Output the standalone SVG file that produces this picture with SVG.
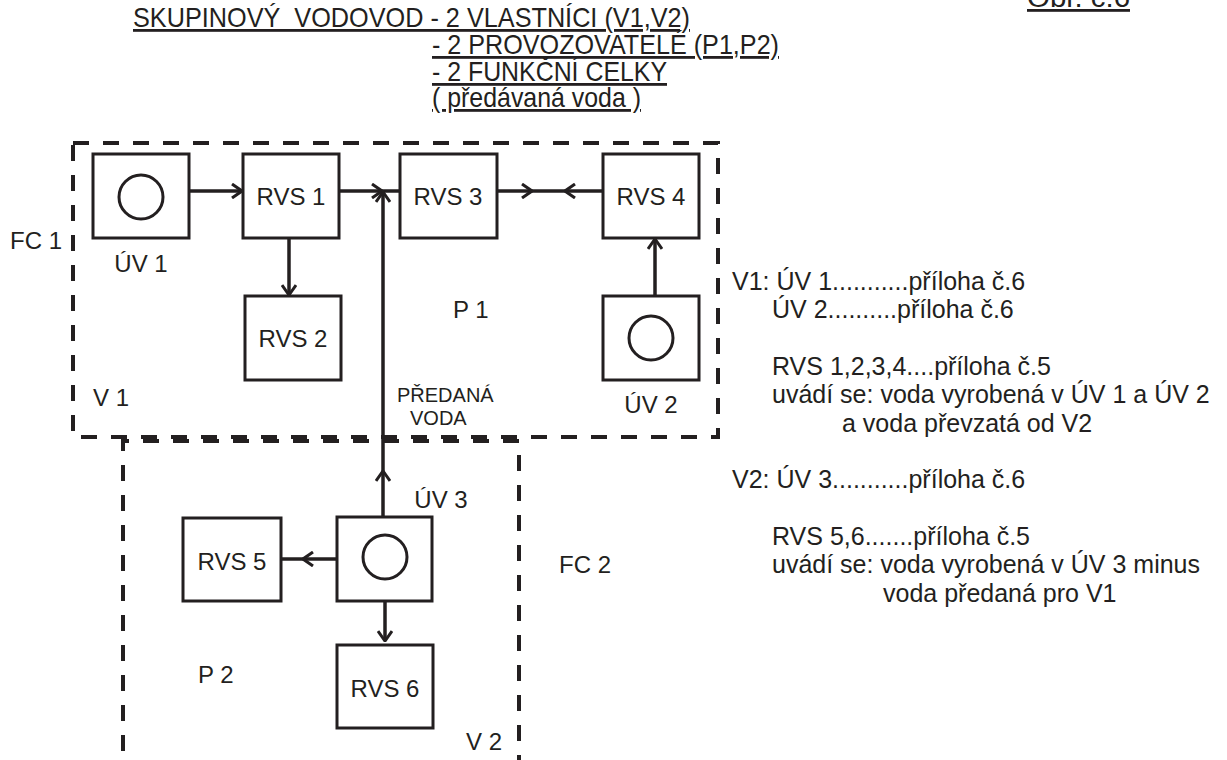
<svg xmlns="http://www.w3.org/2000/svg" width="1227" height="760" viewBox="0 0 1227 760">
<style>
text{font-family:"Liberation Sans",Arial,sans-serif;fill:#231f20}
.lbl{font-size:24px}
.note{font-size:25px}
.hdr{font-size:28px;text-decoration:underline}
.box{fill:#fff;stroke:#231f20;stroke-width:3}
.src{fill:none;stroke:#231f20;stroke-width:3}
.con{stroke:#231f20;stroke-width:3.5;fill:none}
.fc{fill:none;stroke:#231f20;stroke-width:4;stroke-dasharray:16 14}
</style>
<defs>
<marker id="arr" markerUnits="userSpaceOnUse" viewBox="0 0 12 16" refX="11" refY="8" markerWidth="12" markerHeight="16" orient="auto">
<path d="M1,1 L11,8 L1,15" fill="none" stroke="#231f20" stroke-width="3"/>
</marker>
</defs>

<g id="header">
<text class="hdr" x="133" y="27" xml:space="preserve" textLength="557" lengthAdjust="spacingAndGlyphs">SKUPINOVÝ  VODOVOD - 2 VLASTNÍCI (V1,V2)</text>
<text class="hdr" x="432" y="54" textLength="347" lengthAdjust="spacingAndGlyphs">- 2 PROVOZOVATELÉ (P1,P2)</text>
<text class="hdr" x="432" y="81" textLength="235" lengthAdjust="spacingAndGlyphs">- 2 FUNKČNÍ CELKY</text>
<text class="hdr" x="432" y="107" textLength="209" lengthAdjust="spacingAndGlyphs">( předávaná voda )</text>
<text class="hdr" x="1027" y="7" textLength="103" lengthAdjust="spacingAndGlyphs">Obr. č.6</text>
</g>

<g id="fc1">
<path class="fc" d="M73,143 H718 V437 H73 Z"/>
<text class="lbl" x="10" y="249">FC 1</text>
<text class="lbl" x="93" y="406">V 1</text>
<text class="lbl" x="453" y="318">P 1</text>
</g>
<g id="fc2">
<path class="fc" d="M123,775 V441 H519 V775" style="stroke-dashoffset:6"/>
<text class="lbl" x="559" y="573">FC 2</text>
<text class="lbl" x="198" y="683">P 2</text>
<text class="lbl" x="466" y="750">V 2</text>
</g>

<g id="uv1">
<rect class="box" x="93" y="154" width="96" height="84"/>
<circle class="src" cx="141" cy="197" r="22"/>
<text class="lbl" x="141" y="272" text-anchor="middle">ÚV 1</text>
</g>
<g id="rvs1">
<rect class="box" x="243" y="154" width="96" height="84"/>
<text class="lbl" x="291" y="205" text-anchor="middle">RVS 1</text>
</g>
<g id="rvs2">
<rect class="box" x="245" y="296" width="96" height="84"/>
<text class="lbl" x="293" y="347" text-anchor="middle">RVS 2</text>
</g>
<g id="rvs3">
<rect class="box" x="400" y="154" width="97" height="84"/>
<text class="lbl" x="448" y="205" text-anchor="middle">RVS 3</text>
</g>
<g id="rvs4">
<rect class="box" x="603" y="154" width="96" height="84"/>
<text class="lbl" x="651" y="205" text-anchor="middle">RVS 4</text>
</g>
<g id="uv2">
<rect class="box" x="603" y="296" width="96" height="84"/>
<circle class="src" cx="651" cy="338" r="22"/>
<text class="lbl" x="651" y="413" text-anchor="middle">ÚV 2</text>
</g>
<g id="predana">
<text x="397" y="402" style="font-size:20px">PŘEDANÁ</text>
<text x="410" y="425" style="font-size:20px">VODA</text>
</g>
<g id="uv3">
<rect class="box" x="337" y="517" width="95" height="84"/>
<circle class="src" cx="385" cy="557" r="22"/>
<text class="lbl" x="441" y="508" text-anchor="middle">ÚV 3</text>
</g>
<g id="rvs5">
<rect class="box" x="183" y="518" width="98" height="83"/>
<text class="lbl" x="232" y="570" text-anchor="middle">RVS 5</text>
</g>
<g id="rvs6">
<rect class="box" x="337" y="645" width="96" height="83"/>
<text class="lbl" x="385" y="697" text-anchor="middle">RVS 6</text>
</g>

<g id="notes">
<text class="note" x="732" y="290">V1: ÚV 1...........příloha č.6</text>
<text class="note" x="772" y="318">ÚV 2..........příloha č.6</text>
<text class="note" x="772" y="375">RVS 1,2,3,4....příloha č.5</text>
<text class="note" x="772" y="403">uvádí se: voda vyrobená v ÚV 1 a ÚV 2</text>
<text class="note" x="842" y="432">a voda převzatá od V2</text>
<text class="note" x="732" y="488">V2: ÚV 3...........příloha č.6</text>
<text class="note" x="772" y="545">RVS 5,6.......příloha č.5</text>
<text class="note" x="772" y="573">uvádí se: voda vyrobená v ÚV 3 minus</text>
<text class="note" x="883" y="602">voda předaná pro V1</text>
</g>

<g id="connectors">
<line class="con" x1="189" y1="191" x2="242" y2="191" marker-end="url(#arr)"/>
<line class="con" x1="339" y1="191" x2="382" y2="191" marker-end="url(#arr)"/>
<line class="con" x1="382" y1="191" x2="400" y2="191"/>
<line class="con" x1="383" y1="517" x2="383" y2="471" marker-end="url(#arr)"/>
<line class="con" x1="383" y1="475" x2="383" y2="192" marker-end="url(#arr)"/>
<line class="con" x1="497" y1="191" x2="532" y2="191" marker-end="url(#arr)"/>
<line class="con" x1="530" y1="191" x2="567" y2="191"/>
<line class="con" x1="603" y1="191" x2="565" y2="191" marker-end="url(#arr)"/>
<line class="con" x1="289" y1="238" x2="289" y2="295" marker-end="url(#arr)"/>
<line class="con" x1="655" y1="296" x2="655" y2="239" marker-end="url(#arr)"/>
<line class="con" x1="337" y1="559" x2="303" y2="559" marker-end="url(#arr)"/>
<line class="con" x1="305" y1="559" x2="281" y2="559"/>
<line class="con" x1="385" y1="601" x2="385" y2="641" marker-end="url(#arr)"/>
</g>
</svg>
